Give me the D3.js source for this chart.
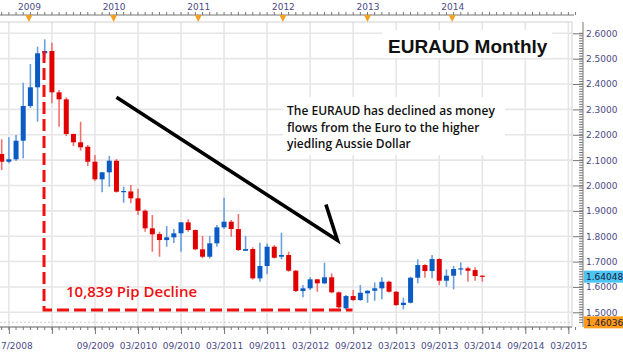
<!DOCTYPE html>
<html><head><meta charset="utf-8">
<script src="https://cdnjs.cloudflare.com/ajax/libs/d3/7.8.5/d3.min.js"></script>
<style>
html,body{margin:0;padding:0;background:#fff;}
svg{display:block;}
</style></head>
<body>
<svg id="c" width="623" height="355"></svg>
<script>
// ---- data ----
const startMonth = "2008-08";
const opens  = [2.1241,2.0937,2.1032,2.1765,2.3133,2.3871,2.5211,2.5302,2.3673,2.3397,2.2029,2.1702,2.1528,2.0937,2.0243,2.0519,2.0976,1.9754,1.9765,1.9494,1.9005,1.8311,1.8085,1.7849,1.7956,1.8114,1.8547,1.8244,1.7483,1.7191,1.7719,1.8350,1.8571,1.8283,1.7427,1.7494,1.6339,1.6824,1.7585,1.7191,1.7258,1.6639,1.5838,1.5945,1.6300,1.6142,1.6379,1.5787,1.5156,1.5641,1.5484,1.5748,1.5850,1.5945,1.6205,1.5811,1.5286,1.5377,1.6363,1.6863,1.6627,1.7100,1.6245,1.6442,1.6694,1.6733,1.6666,1.6445];
const highs  = [2.1820,2.1900,2.1990,2.4052,2.4790,2.5472,2.5763,2.5629,2.3764,2.3476,2.2050,2.2514,2.1596,2.1201,2.0530,2.1162,2.1043,1.9951,2.0018,1.9860,1.9050,1.8835,1.8177,1.8401,1.8283,1.8560,1.8666,1.8260,1.8007,1.8007,1.8441,1.9517,1.8638,1.8874,1.8007,1.7562,1.7743,1.7711,1.7652,1.8137,1.7388,1.6670,1.6075,1.6379,1.6320,1.6954,1.6536,1.5820,1.5681,1.5878,1.6075,1.5870,1.6181,1.6379,1.6245,1.5840,1.5574,1.6400,1.7088,1.6890,1.7258,1.7130,1.6694,1.6824,1.6970,1.6797,1.6773,1.6452];
const lows   = [2.0610,2.0874,2.0965,2.1071,2.3054,2.2514,2.5026,2.3240,2.2317,2.1950,2.1556,2.1371,2.0767,2.0176,1.9730,1.9951,1.9720,1.9320,1.9297,1.8835,1.8177,1.7388,1.7191,1.7585,1.7731,1.7388,1.8177,1.7450,1.7140,1.7128,1.7585,1.8283,1.7980,1.7420,1.7416,1.6292,1.6205,1.6509,1.7120,1.7088,1.6600,1.5800,1.5590,1.5878,1.5811,1.6110,1.5750,1.5150,1.5089,1.5450,1.5450,1.5377,1.5456,1.5511,1.5780,1.5250,1.5117,1.5350,1.6142,1.6363,1.6339,1.6075,1.6008,1.5905,1.6470,1.6205,1.6245,1.6205];
const closes = [2.0937,2.1032,2.1765,2.3133,2.3871,2.5211,2.5302,2.3673,2.3397,2.2029,2.1702,2.1505,2.0937,2.0243,2.0519,2.0976,1.9754,1.9782,1.9494,1.9005,1.8311,1.8074,1.7849,1.7956,1.8114,1.8547,1.8244,1.7483,1.7191,1.7719,1.8350,1.8571,1.8283,1.7455,1.7494,1.6339,1.6824,1.7585,1.7151,1.7258,1.6639,1.5838,1.5945,1.6300,1.6142,1.6379,1.5787,1.5196,1.5641,1.5484,1.5771,1.5850,1.5945,1.6205,1.5811,1.5286,1.5377,1.6363,1.6863,1.6627,1.7100,1.6245,1.6442,1.6706,1.6733,1.6639,1.6430,1.64048];
const priceTicks = [1.5,1.6,1.7,1.8,1.9,2.0,2.1,2.2,2.3,2.4,2.5,2.6];
const bottomTickMonths = [1,7,13,19,25,31,37,43,49,55,61,67,73,79];   // months after Aug 2008
const bottomTickLabels = ["7/2008","","09/2009","03/2010","09/2010","03/2011","09/2011","03/2012","09/2012","03/2013","09/2013","03/2014","09/2014","03/2015"];
const topYears = ["2009","2010","2011","2012","2013","2014"];
const topYearMonths = [3.8,15.6,27.4,39.2,51.0,62.8];
const lastPrice = 1.64048;
const lowPrice = 1.46036;
const pipLow = 1.5091;      // horizontal dashed level
const pipHigh = 2.5302;     // top of the vertical dashed line
const pipLabel = "10,839 Pip Decline";
const titleText = "EURAUD Monthly";
const noteLines = ["The EURAUD has declined as money","flows from the Euro to the higher","yiedling Aussie Dollar"];
const arrowFrom = {m:16, v:2.3475};
const arrowTo = {m:46.8, v:1.7840};
const arrowBarb = {m:45.2, v:1.9250};
const pipStartMonth = 5.9, pipEndMonth = 48.9;

// ---- layout ----
const W=623,H=355;
const plot={l:0,t:22,r:572,b:327};
const axisX=583;
const svg=d3.select("#c");
const x=d3.scaleLinear().domain([0,67]).range([1.7,482.3]);
const y=d3.scaleLinear().domain([1.5,2.6]).range([312.3,33.3]);
const data=opens.map((o,i)=>({i,o,h:highs[i],l:lows[i],c:closes[i]}));

svg.append("rect").attr("width",W).attr("height",H).attr("fill","#fff");
const clip=svg.append("clipPath").attr("id","pc").append("rect")
  .attr("x",plot.l).attr("y",plot.t).attr("width",plot.r-plot.l).attr("height",plot.b-plot.t);
const g=svg.append("g").attr("clip-path","url(#pc)");

// grid
g.selectAll(".gy").data(priceTicks).join("line")
  .attr("x1",plot.l).attr("x2",plot.r).attr("y1",d=>y(d)).attr("y2",d=>y(d))
  .attr("stroke","#e6e6e6").attr("stroke-width",1.6);
g.selectAll(".gx").data(bottomTickMonths).join("line")
  .attr("x1",d=>x(d)).attr("x2",d=>x(d)).attr("y1",plot.t).attr("y2",plot.b)
  .attr("stroke","#e6e6e6").attr("stroke-width",1.6);
// low level dotted
g.append("line").attr("x1",plot.l).attr("x2",plot.r).attr("y1",y(lowPrice)).attr("y2",y(lowPrice))
  .attr("stroke","#cfcfcf").attr("stroke-dasharray","2,2").attr("stroke-width",1);

// white boxes behind title & note
g.append("rect").attr("x",382).attr("y",plot.t+8).attr("width",170).attr("height",y(2.5)-plot.t-9).attr("fill","#fff");
g.append("rect").attr("x",283).attr("y",97).attr("width",222).attr("height",58).attr("fill","#fff");

// candles
const up="#0a5cc4", upW="#6a9fe0", dn="#e00000", dnW="#f07070";
const cg=g.append("g");
cg.selectAll(".wick").data(data).join("line")
  .attr("x1",d=>x(d.i)).attr("x2",d=>x(d.i)).attr("y1",d=>y(d.h)).attr("y2",d=>y(d.l))
  .attr("stroke",d=>d.c>=d.o?upW:dnW).attr("stroke-width",1.6);
cg.selectAll(".body").data(data).join("rect")
  .attr("x",d=>x(d.i)-2.5).attr("width",5)
  .attr("y",d=>y(Math.max(d.o,d.c)))
  .attr("height",d=>Math.max(1.2,Math.abs(y(d.o)-y(d.c))))
  .attr("fill",d=>d.c>=d.o?up:dn);

// red dashed decline
g.append("path")
  .attr("d",`M${x(pipStartMonth)},${y(pipHigh)}V${y(pipLow)}H${x(pipEndMonth)}`)
  .attr("fill","none").attr("stroke","#f01010").attr("stroke-width",3).attr("stroke-dasharray","12,5");

// arrow
g.append("path")
  .attr("d",`M${x(arrowFrom.m)},${y(arrowFrom.v)}L${x(arrowTo.m)},${y(arrowTo.v)}L${x(arrowBarb.m)},${y(arrowBarb.v)}`)
  .attr("fill","none").attr("stroke","#000").attr("stroke-width",3.6).attr("stroke-linejoin","miter");

// texts
g.append("text").attr("x",388).attr("y",53).text(titleText)
  .attr("font-family","'Liberation Sans',Arial,sans-serif").attr("font-weight","bold").attr("font-size",19).attr("fill","#111");
g.append("g").selectAll("text").data(noteLines).join("text")
  .attr("x",287).attr("y",(d,i)=>115+i*16.7).text(d=>d)
  .attr("font-family","'Open Sans',sans-serif").attr("font-weight",600).attr("font-size",12).attr("fill","#111");
g.append("text").attr("x",66).attr("y",297).text(pipLabel)
  .attr("font-family","'Open Sans',sans-serif").attr("font-weight",600).attr("font-size",15).attr("fill","#f01010");

// plot border
svg.append("rect").attr("x",plot.l-1).attr("y",plot.t).attr("width",plot.r-plot.l+1).attr("height",plot.b-plot.t)
  .attr("fill","none").attr("stroke","#cfcfcf");

// right axis
const axisColor="#4b4b86";
const ra=svg.append("g").attr("transform",`translate(${axisX},0)`);
ra.append("line").attr("x1",0).attr("x2",0).attr("y1",plot.t).attr("y2",plot.b).attr("stroke","#777");
const minor=d3.range(146,261).map(k=>k/100).filter(v=>y(v)>plot.t && y(v)<plot.b);
ra.selectAll(".mt").data(minor).join("line").attr("x1",-4).attr("x2",0).attr("y1",d=>y(d)).attr("y2",d=>y(d)).attr("stroke","#777");
const rAxis=d3.axisRight(y).tickValues(priceTicks).tickSize(-10).tickPadding(3).tickFormat(d3.format(".4f"));
ra.call(rAxis);
ra.select(".domain").remove();
ra.selectAll(".tick line").attr("stroke","#777");
ra.selectAll(".tick text").attr("fill",axisColor).attr("font-family","Tahoma,'DejaVu Sans',sans-serif").attr("font-size",9);

// price badges
function badge(v,bg){
  const gb=ra.append("g").attr("transform",`translate(0,${y(v)})`);
  gb.append("rect").attr("x",1).attr("y",-6).attr("width",39).attr("height",12).attr("fill",bg);
  gb.append("text").attr("x",3).attr("y",3.5).text(d3.format(".5f")(v))
    .attr("font-family","Tahoma,'DejaVu Sans',sans-serif").attr("font-size",9).attr("fill","#1a1a3a");
}
badge(lastPrice,"#4cc4f4");
badge(lowPrice,"#ff9a1a");

// bottom axis
const ba=svg.append("g").attr("transform",`translate(0,${plot.b})`);
ba.append("line").attr("x1",0).attr("x2",plot.r).attr("stroke","#777");
ba.selectAll(".bm").data(d3.range(-1,81)).join("line").attr("x1",d=>x(d)).attr("x2",d=>x(d)).attr("y1",0).attr("y2",3).attr("stroke","#777");
const bAxis=d3.axisBottom(x).tickValues(bottomTickMonths).tickSize(7).tickPadding(9)
  .tickFormat((d,i)=>bottomTickLabels[i]);
ba.call(bAxis);
ba.select(".domain").remove();
ba.selectAll(".tick line").attr("stroke","#777");
ba.selectAll(".tick text").attr("fill",axisColor).attr("font-family","Tahoma,'DejaVu Sans',sans-serif").attr("font-size",9);
// first label sits at the left edge
ba.selectAll(".tick text").filter((d,i)=>i===0).attr("text-anchor","start").attr("x",-x(bottomTickMonths[0])+0.5);

// top axis
const ta=svg.append("g").attr("transform","translate(0,15)");
ta.append("line").attr("x1",0).attr("x2",plot.r+2).attr("stroke","#777");
ta.selectAll(".tm").data(d3.range(-1,81)).join("line").attr("x1",d=>x(d)).attr("x2",d=>x(d)).attr("y1",0).attr("y2",-3).attr("stroke","#777");
const tAxis=d3.axisTop(x).tickValues(topYearMonths).tickSize(0).tickPadding(5).tickFormat((d,i)=>topYears[i]);
ta.call(tAxis);
ta.select(".domain").remove();
ta.selectAll(".tick text").attr("fill",axisColor).attr("font-family","Tahoma,'DejaVu Sans',sans-serif").attr("font-size",9);
ta.selectAll(".tri").data(topYearMonths).join("path")
  .attr("d",d=>`M${x(d)-3.5},0L${x(d)+3.5},0L${x(d)},7Z`).attr("fill","#f5a020");
</script>
</body></html>
